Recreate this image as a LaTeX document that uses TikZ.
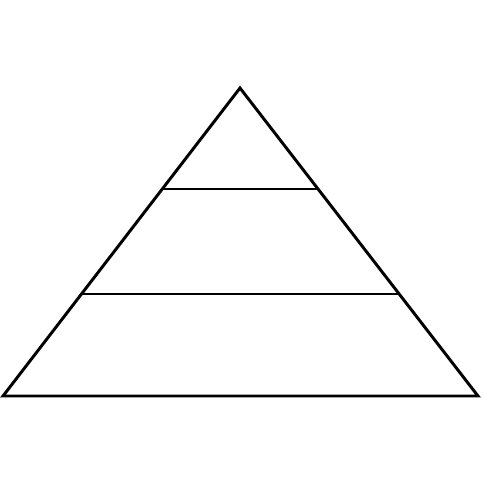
\documentclass[tikz,border=0pt]{standalone}
\begin{document}
\begin{tikzpicture}[x=0.025cm,y=-0.025cm]
  \useasboundingbox (0,0) rectangle (483,483);
  \coordinate (top) at (240,88);
  \coordinate (left) at (3,396);
  \coordinate (right) at (478,396);
  \coordinate (a) at (162,189);
  \coordinate (b) at (318,189);
  \coordinate (c) at (81.5,294);
  \coordinate (d) at (399,294);
  \draw[line width=2.1pt,line join=miter] (left) -- (top) -- (right) -- cycle;
  \draw[line width=2.1pt] (a) -- (b);
  \draw[line width=2.1pt] (c) -- (d);
\end{tikzpicture}
\end{document}
